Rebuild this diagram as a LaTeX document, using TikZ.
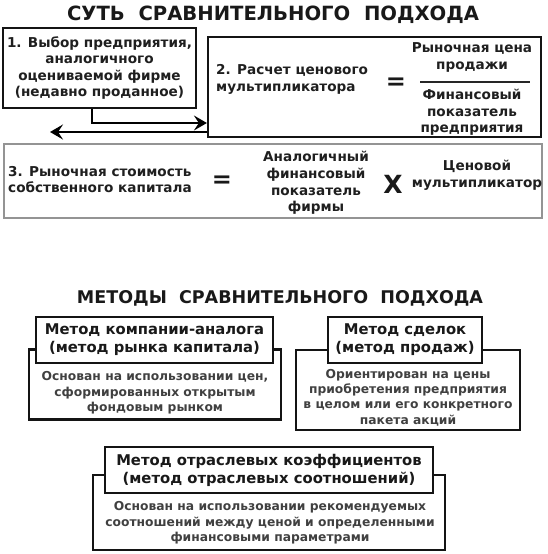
\documentclass[tikz,border=0pt]{standalone}
\usepackage{fontspec}
\setmainfont{DejaVu Sans}
\usetikzlibrary{arrows.meta}
\begin{document}
\begin{tikzpicture}[x=1pt,y=-1pt,
  box/.style={draw=black!92,line width=2.2pt,fill=white,inner sep=0pt},
  graybox/.style={draw=black!42,line width=2.2pt,fill=white,inner sep=0pt},
  ttl/.style={font=\bfseries\fontsize{19.6}{22}\selectfont,inner sep=0pt,text=black!90},
  ttltwo/.style={font=\bfseries\fontsize{17.5}{20}\selectfont,inner sep=0pt,text=black!90},
  txt/.style={font=\bfseries\fontsize{13.6}{16.6}\selectfont,align=center,inner sep=0pt,text=black!88},
  txtl/.style={txt,align=left},
  sym/.style={font=\bfseries\fontsize{24}{24}\selectfont,inner sep=0pt,text=black!90},
  hdr/.style={font=\bfseries\fontsize{14.8}{18}\selectfont,align=center,inner sep=0pt,text=black!90},
  body/.style={font=\bfseries\fontsize{12.3}{15.3}\selectfont,align=center,inner sep=0pt,text=black!75},
  arr/.style={line width=2.5pt,-{Stealth[length=13pt,width=15pt,inset=5pt]}}
]
\useasboundingbox (0,0) rectangle (547,554);

% ---------- top part ----------
\node[ttl] (t1) at (273,14.5) {СУТЬ\ \ СРАВНИТЕЛЬНОГО\ \ ПОДХОДА};

\node[box,minimum width=193pt,minimum height=80pt,txt] (b1) at (99.5,68)
  {1. Выбор предприятия,\\аналогичного\\оцениваемой фирме\\(недавно проданное)};

\node[box,minimum width=333pt,minimum height=100pt] (b2) at (374.5,87) {};
\node[txtl,anchor=west] (b2t) at (216,79.5) {2. Расчет ценового\\мультипликатора};
\node[sym] (eq1) at (396,84) {=};
\node[txt] (num) at (472,57.5) {Рыночная цена\\продажи};
\node[txt] (den) at (472,112.5) {Финансовый\\показатель\\предприятия};
\draw[line width=1.5pt,black!85] (420,82) -- (530,82);

\coordinate (p1) at (92,123);
\coordinate (p2) at (50,132);
\draw[arr] (b1.south -| p1) |- (b2.west |- p1);
\draw[arr] (b2.west |- p2) -- (p2);

\node[graybox,minimum width=538pt,minimum height=74pt] (b3) at (273,181) {};
\node[txtl,anchor=west] (b3t) at (8,179.5) {3. Рыночная стоимость\\собственного капитала};
\node[sym] (eq2) at (222,182) {=};
\node[txt] (an) at (316,183) {Аналогичный\\финансовый\\показатель\\фирмы};
\node[sym,font=\bfseries\fontsize{25}{25}\selectfont] (x) at (393,184) {X};
\node[txt] (cm) at (477,175) {Ценовой\\мультипликатор};

% ---------- methods ----------
\node[ttltwo] (t2) at (280,298.5) {МЕТОДЫ\ \ СРАВНИТЕЛЬНОГО\ \ ПОДХОДА};

\node[box,minimum width=252pt,minimum height=70pt] (o1) at (155,384.5) {};
\node[box,minimum width=237pt,minimum height=46pt,hdr] (h1) at (154.5,340)
  {Метод компании-аналога\\(метод рынка капитала)};
\node[body] (d1) at (155,393) {Основан на использовании цен,\\сформированных открытым\\фондовым рынком};

\node[box,minimum width=224pt,minimum height=80pt] (o2) at (408,390) {};
\node[box,minimum width=154pt,minimum height=46pt,hdr] (h2) at (405,340)
  {Метод сделок\\(метод продаж)};
\node[body] (d2) at (408,397.5) {Ориентирован на цены\\приобретения предприятия\\в целом или его конкретного\\пакета акций};

\node[box,minimum width=352pt,minimum height=75pt] (o3) at (269,512.5) {};
\node[box,minimum width=328pt,minimum height=46pt,hdr] (h3) at (269,470)
  {Метод отраслевых коэффициентов\\(метод отраслевых соотношений)};
\node[body] (d3) at (270,523) {Основан на использовании рекомендуемых\\соотношений между ценой и определенными\\финансовыми параметрами};
\end{tikzpicture}
\end{document}
